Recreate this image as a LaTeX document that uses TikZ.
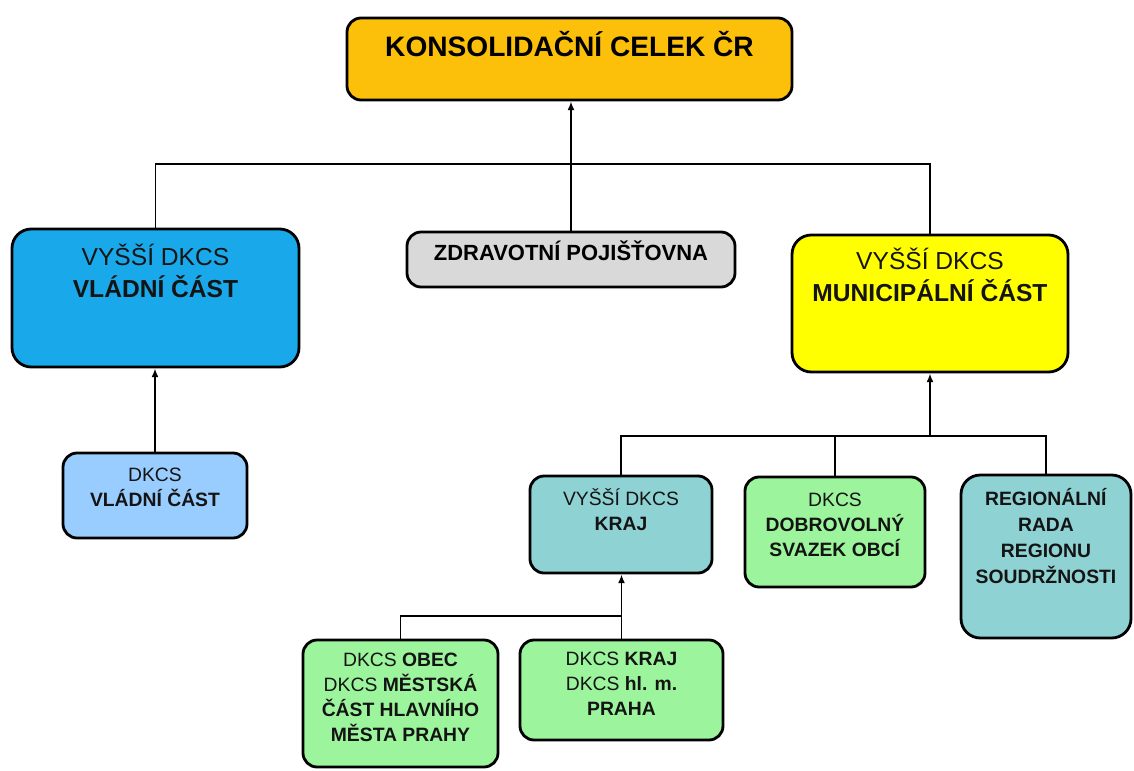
\documentclass[tikz,border=0pt]{standalone}
\usepackage{fontspec}
\setmainfont{Liberation Sans}
\usetikzlibrary{arrows.meta, fit, calc}

\definecolor{celekfill}{HTML}{FDC00A}
\definecolor{vladafill}{HTML}{19A9EA}
\definecolor{dvladafill}{HTML}{99CCFF}
\definecolor{zpfill}{HTML}{D9D9D9}
\definecolor{munifill}{HTML}{FFFF00}
\definecolor{krajfill}{HTML}{8ED2D4}
\definecolor{greenfill}{HTML}{9CF59C}

\begin{document}
\begin{tikzpicture}[x=0.02cm, y=-0.02cm,
    box/.style={draw, line width=1.6pt, rounded corners=8pt, inner sep=0pt},
    bigbox/.style={box, rounded corners=11pt},
    conn/.style={line width=1.1pt},
    arr/.style={-{Latex[length=5pt, width=4pt]}},
    txt/.style={align=center, inner sep=0pt, anchor=base, text=black!92},
    bigtxt/.style={txt, font=\fontsize{14}{18}\selectfont},
    smalltxt/.style={txt, font=\fontsize{11}{14.2}\selectfont}]
    \useasboundingbox (0,0) rectangle (1134,771);

    % Define the boxes
    \node (celek) [box, fill=celekfill, fit={(347,18) (792,100)}] {};
    \node (vlada) [bigbox, fill=vladafill, fit={(12,229) (299,367)}] {};
    \node (zp) [box, fill=zpfill, fit={(407,232) (735,287)}] {};
    \node (muni) [bigbox, fill=munifill, fit={(792,235) (1068,372)}] {};
    \node (dvlada) [box, fill=dvladafill, fit={(63,453) (247,538)}] {};
    \node (kraj) [box, fill=krajfill, fit={(530,476) (712,573)}] {};
    \node (dobro) [box, fill=greenfill, fit={(745,477) (925,587)}] {};
    \node (reg) [bigbox, fill=krajfill, fit={(961,475) (1131,638)}] {};
    \node (obec) [box, fill=greenfill, fit={(303,640) (498,767)}] {};
    \node (praha) [box, fill=greenfill, fit={(520,640) (723,740)}] {};

    % Place the texts in the boxes (base = last line)
    \node (celektxt) [txt, font=\fontsize{16}{19}\selectfont\bfseries, text=black] at ($(celek.north)+(0,40)$) {KONSOLIDAČNÍ CELEK ČR};
    \node (zptxt) [txt, font=\fontsize{12.5}{15}\selectfont\bfseries, text=black] at ($(zp.north)+(0,30)$) {ZDRAVOTNÍ POJIŠŤOVNA};
    \node (vladatxt) [bigtxt] at ($(vlada.north)+(0,70)$) {VYŠŠÍ DKCS\\\textbf{VLÁDNÍ ČÁST}};
    \node (munitxt) [bigtxt] at ($(muni.north)+(0,68)$) {VYŠŠÍ DKCS\\\textbf{MUNICIPÁLNÍ ČÁST}};
    \node (dvladatxt) [smalltxt] at ($(dvlada.north)+(0,55)$) {DKCS\\\textbf{VLÁDNÍ ČÁST}};
    \node (krajtxt) [smalltxt] at ($(kraj.north)+(0,56)$) {VYŠŠÍ DKCS\\\textbf{KRAJ}};
    \node (dobrotxt) [smalltxt] at ($(dobro.north)+(0,81)$) {DKCS\\\textbf{DOBROVOLNÝ}\\\textbf{SVAZEK OBCÍ}};
    \node (regtxt) [smalltxt, font=\fontsize{11}{14.8}\selectfont] at ($(reg.north)+(0,110)$) {\textbf{REGIONÁLNÍ}\\\textbf{RADA}\\\textbf{REGIONU}\\\textbf{SOUDRŽNOSTI}};
    \node (obectxt) [smalltxt] at ($(obec.north)+(0,103)$) {DKCS \textbf{OBEC}\\DKCS \textbf{MĚSTSKÁ}\\\textbf{ČÁST HLAVNÍHO}\\\textbf{MĚSTA PRAHY}};
    \node (prahatxt) [smalltxt] at ($(praha.north)+(0,77)$) {DKCS \textbf{KRAJ}\\DKCS \textbf{hl. m.}\\\textbf{PRAHA}};

    % Joints of the connectors
    \coordinate (topjoint) at (571,164);
    \coordinate (midjoint) at (930,436);
    \coordinate (lowjoint) at (621,616);

    % Draw the connectors
    \draw[conn] (vlada.north) |- (topjoint) -| (muni.north);
    \draw[conn, arr] (zp.north) -- (zp.north |- celek.south);
    \draw[conn, arr] (dvlada.north) -- (dvlada.north |- vlada.south);
    \draw[conn, arr] (midjoint) -- (midjoint |- muni.south);
    \draw[conn] (kraj.north) |- (midjoint) -| (reg.north);
    \draw[conn] (dobro.north) -- (dobro.north |- midjoint);
    \draw[conn, arr] (praha.north) -- (praha.north |- kraj.south);
    \draw[conn] (obec.north) |- (lowjoint);
\end{tikzpicture}
\end{document}
